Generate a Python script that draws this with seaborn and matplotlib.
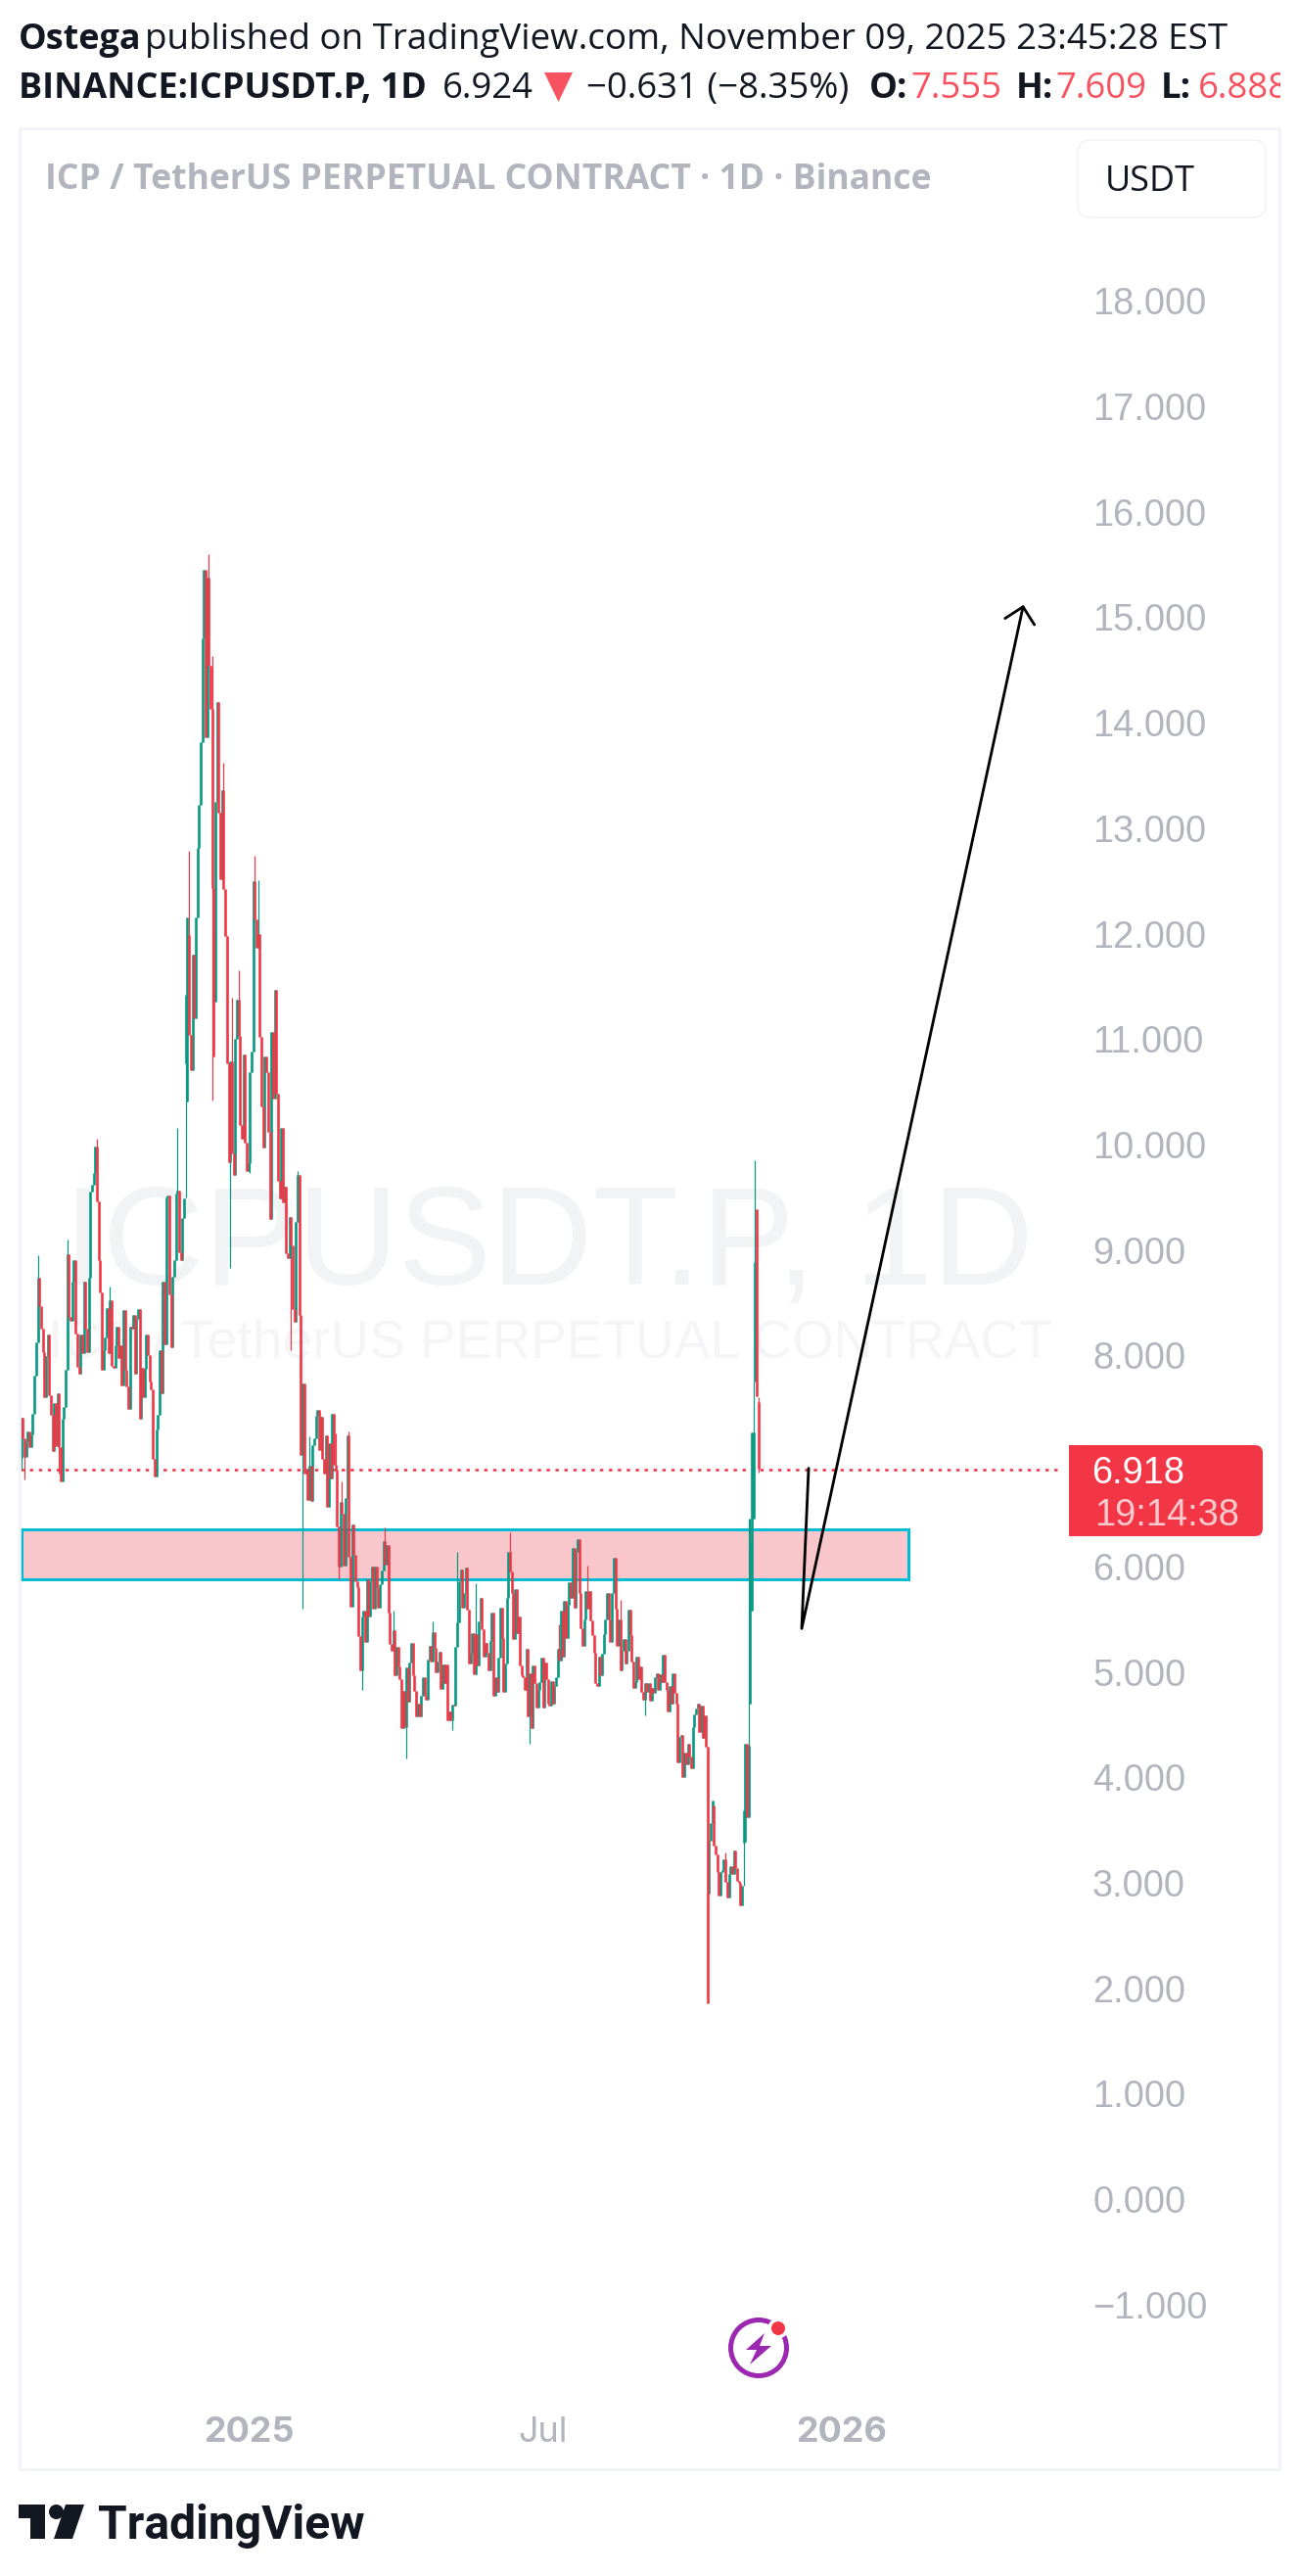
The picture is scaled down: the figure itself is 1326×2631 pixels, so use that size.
"""ICP perpetual daily chart, TradingView snapshot style."""
import matplotlib
matplotlib.use("Agg")
import matplotlib.pyplot as plt
import numpy as np
import pandas as pd
import seaborn as sns
from matplotlib.patches import Circle, FancyBboxPatch, Polygon, Rectangle
from matplotlib.transforms import IdentityTransform

W, H = 1326, 2631
GREEN, RED, SOFT_RED = "#089981", "#f23645", "#f7525f"
INK, GREY, BORDER = "#131722", "#b2b5be", "#f0f3fa"

# daily closes, ten per row
closes_2024 = [
    7.41, 7.21, 7.04, 7.19, 7.28, 7.13, 7.25, 7.45, 7.81, 8.12,
    8.74, 8.47, 8.25, 8.03, 7.60, 7.99, 8.20, 7.62, 7.44, 7.09,
    7.55, 7.14, 7.64, 7.13, 6.81, 7.40, 7.51, 7.86, 8.96, 8.37,
    8.33, 8.70, 8.90, 8.21, 7.89, 7.83, 8.20, 8.02, 8.70, 8.25,
    8.03, 8.74, 9.55, 9.62, 9.73, 9.98, 9.46, 8.90, 8.60, 7.86,
    8.05, 8.17, 8.45, 8.02, 8.52, 7.90, 7.88, 8.10, 8.27, 7.98,
    8.10, 7.72, 8.43, 7.86, 7.71, 7.49, 8.27, 8.25, 8.38, 7.83,
    8.35, 8.44, 7.40, 7.88, 7.60, 7.87, 8.20, 8.00, 7.75, 7.68,
    7.02, 6.85, 7.30, 7.44, 8.05, 7.64, 8.70, 8.11, 9.50, 9.52,
    8.58, 8.08, 8.75, 8.90, 9.54, 9.56, 8.98, 8.90, 9.30, 9.49,
    11.42, 12.15, 11.04, 10.71, 11.80, 11.20, 12.15, 12.81, 13.22, 13.82,
    14.80, 15.45, 13.86, 15.38, 14.54, 14.13, 12.43, 10.84, 13.25, 14.20,
    13.15, 12.52, 13.36, 12.42, 11.98, 10.77, 9.83, 10.79, 9.92, 9.71,
    11.00, 11.37, 11.03, 10.19, 10.06, 10.85, 10.02, 9.75, 9.82, 10.69,
]
closes_2025_h1 = [
    10.88, 12.50, 12.14, 11.87, 12.00, 11.02, 10.36, 9.97, 10.84, 10.69,
    10.12, 9.29, 11.07, 10.44, 11.47, 10.48, 9.66, 9.49, 10.16, 9.45,
    9.60, 8.97, 8.92, 9.31, 9.04, 8.44, 8.32, 9.27, 9.71, 8.38,
    7.06, 7.73, 6.88, 6.92, 6.63, 6.95, 6.62, 7.15, 7.21, 7.43,
    7.48, 7.10, 7.42, 7.02, 6.88, 7.24, 6.56, 7.17, 6.83, 7.45,
    6.96, 6.92, 6.38, 6.00, 6.61, 6.50, 6.01, 6.65, 7.24, 6.09,
    5.62, 6.40, 6.11, 5.86, 5.80, 5.34, 5.01, 5.52, 5.58, 5.28,
    5.88, 5.52, 5.86, 6.00, 5.60, 6.00, 5.79, 5.61, 5.83, 5.96,
    6.24, 6.02, 6.20, 5.56, 5.26, 5.20, 5.39, 4.97, 5.24, 5.05,
    4.93, 4.47, 4.82, 4.48, 5.04, 4.72, 5.09, 5.27, 4.97, 4.82,
    4.58, 4.70, 4.58, 4.77, 4.95, 4.77, 4.74, 5.12, 5.25, 5.10,
    5.38, 5.23, 5.00, 5.10, 5.19, 4.84, 5.07, 4.89, 5.07, 4.54,
    4.62, 4.54, 4.69, 4.68, 5.24, 5.47, 5.86, 5.97, 5.61, 5.75,
    5.99, 5.59, 5.08, 5.18, 5.37, 4.98, 5.36, 5.06, 5.48, 5.70,
    5.40, 5.14, 5.27, 5.18, 5.01, 5.29, 5.56, 4.77, 4.95, 4.81,
    5.13, 5.61, 5.32, 4.81, 5.08, 5.70, 6.14, 5.95, 5.75, 5.31,
]
closes_2025_h2 = [
    5.78, 5.37, 5.52, 5.06, 4.97, 4.95, 4.83, 5.22, 4.58, 4.99,
    4.47, 5.06, 4.89, 4.66, 4.83, 4.90, 5.13, 4.66, 5.09, 4.93,
    4.70, 4.68, 4.91, 4.70, 4.87, 4.95, 5.22, 5.11, 5.58, 5.14,
    5.67, 5.32, 5.64, 5.85, 5.70, 6.17, 5.61, 6.14, 6.26, 5.75,
    5.41, 5.25, 5.50, 5.77, 5.60, 5.77, 5.49, 5.35, 5.18, 4.89,
    4.87, 5.14, 4.97, 5.17, 5.36, 5.50, 5.75, 5.50, 5.28, 5.75,
    6.08, 5.60, 5.25, 5.50, 5.01, 5.20, 5.31, 5.08, 5.20, 5.59,
    5.35, 5.10, 4.85, 4.90, 5.14, 4.93, 5.05, 4.81, 4.74, 4.89,
    4.81, 4.89, 4.73, 4.85, 4.80, 4.95, 4.99, 4.83, 4.98, 4.90,
    5.16, 4.90, 4.83, 4.62, 4.87, 4.70, 4.99, 4.80, 4.70, 4.14,
    4.38, 4.40, 4.00, 4.23, 4.12, 4.32, 4.20, 4.09, 4.48, 4.60,
    4.65, 4.70, 4.43, 4.68, 4.37, 4.59, 4.29, 1.86, 3.40, 3.57,
    3.78, 3.35, 3.27, 3.10, 2.88, 3.10, 3.12, 3.22, 3.01, 2.86,
    3.08, 3.16, 3.08, 3.31, 3.14, 3.02, 3.00, 2.79, 2.97, 3.69,
    4.32, 3.62, 4.30, 6.22, 7.27, 7.27, 8.89, 7.61, 6.924,
]
# an open is the previous close except on these days
gap_days = [0, 100, 101, 102, 118, 418, 421, 439, 440, 443, 444, 445, 446, 447, 448]
gap_opens = [7.03, 10.77, 10.41, 11.99, 11.36, 2.90, 3.73, 3.38, 3.39, 4.70, 5.58, 6.45, 7.75, 9.39, 7.555]
# wicks that stick out of the bodies
high_days = [10, 28, 46, 54, 95, 102, 114, 116, 120, 123, 128, 132, 142, 144, 168, 175, 191, 195,
             199, 221, 226, 250, 265, 276, 297, 327, 344, 364, 396, 428, 442, 443, 445, 446, 448]
high_vals = [8.95, 9.10, 10.06, 8.65, 10.16, 12.79, 15.60, 14.63, 13.94, 13.62, 11.39, 11.65, 12.74,
             12.51, 9.75, 7.23, 7.26, 6.81, 7.28, 6.37, 5.58, 5.48, 6.14, 5.84, 6.32, 5.45, 6.01,
             5.68, 4.99, 3.29, 6.45, 6.45, 7.75, 9.85, 7.609]
low_days = [0, 2, 23, 100, 116, 127, 139, 164, 171, 193, 207, 234, 262, 309, 379, 439, 442, 448]
low_vals = [6.92, 6.82, 6.88, 9.50, 10.42, 8.83, 9.73, 8.05, 5.60, 5.88, 4.83, 4.18, 4.45, 4.32,
            4.59, 2.97, 3.93, 6.888]

price_ticks = [-1, 0, 1, 2, 3, 4, 5, 6, 8, 9, 10, 11, 12, 13, 14, 15, 16, 17, 18]
date_ticks = [138.5, 316.7, 498.7]
date_labels = ["2025", "Jul", "2026"]
last_price = 6.918
zone_low, zone_high = 5.882, 6.35
zone_end_day = 539
path_days = [478.5, 474.3, 608.8]
path_prices = [6.93, 5.41, 15.10]
head_days = [597.9, 608.8, 615.7]
head_prices = [14.99, 15.10, 14.93]


def pt(px):
    return px * 0.72


def put(x, y, s, size, family="Open Sans", color=INK, weight="normal", **kw):
    return fig.text(x / W, 1 - y / H, s, fontsize=pt(size), family=family, color=color,
                    weight=weight, va="baseline", zorder=4, **kw)


def shape(patch):
    patch.set_transform(IdentityTransform())
    fig.add_artist(patch)
    return patch


sns.set_theme(style="white")
plt.rcParams["font.family"] = ["Inter", "DejaVu Sans"]

closes = np.array(closes_2024 + closes_2025_h1 + closes_2025_h2)
days = np.arange(len(closes))
opens = np.r_[closes[0], closes[:-1]]
opens[gap_days] = gap_opens
highs = np.maximum(opens, closes)
lows = np.minimum(opens, closes)
highs[high_days] = np.maximum(highs[high_days], high_vals)
lows[low_days] = np.minimum(lows[low_days], low_vals)
side = np.where(closes >= opens, "up", "down")

wicks = pd.DataFrame({"day": np.r_[days, days], "price": np.r_[lows, highs], "side": np.r_[side, side]})
bodies = pd.DataFrame({"day": np.r_[days, days], "price": np.r_[opens, closes], "side": np.r_[side, side]})

fig = plt.figure(figsize=(W / 100, H / 100), dpi=100, facecolor="white")

# pane runs from x=21 to x=1085 and y=133 to y=2445 in image pixels
left, right, top, bottom = 21, 1085, 133, 2445
ax = fig.add_axes([left / W, 1 - bottom / H, (right - left) / W, (bottom - top) / H])
ax.patch.set_alpha(0)
ax.set_xlim((left - 21.7) / 1.681, (right - 21.7) / 1.681)
ax.set_ylim(10 - (bottom - 1169) / 107.7, 10 - (top - 1169) / 107.7)

# watermark
ax.text(560, H - 1311, "ICPUSDT.P, 1D", transform=IdentityTransform(), family="Liberation Sans",
        fontsize=pt(143), color="#f2f3f5", ha="center", va="baseline", zorder=0)
ax.text(562, H - 1387, "ICP / TetherUS PERPETUAL CONTRACT", transform=IdentityTransform(),
        family="Liberation Sans", fontsize=pt(55), color="#f5f5f7", ha="center", va="baseline", zorder=0)

ax.add_patch(Rectangle((0, zone_low), zone_end_day, zone_high - zone_low, fc="#f9c6cb", ec="#00bcd4",
                       lw=pt(3), zorder=1))
ax.axhline(last_price, color=RED, lw=pt(2.6), ls=(0, (1.3, 2.2)), zorder=2)

palette = {"up": GREEN, "down": RED}
sns.lineplot(data=wicks, x="day", y="price", hue="side", units="day", estimator=None, palette=palette,
             hue_order=["up", "down"], lw=pt(1.2), legend=False, ax=ax, solid_capstyle="butt", zorder=3)
sns.lineplot(data=bodies, x="day", y="price", hue="side", units="day", estimator=None, palette=palette,
             hue_order=["up", "down"], lw=pt(2.6), legend=False, ax=ax, solid_capstyle="butt", zorder=3)

ax.plot(path_days, path_prices, color="black", lw=pt(2.8), solid_capstyle="round", zorder=4, clip_on=False)
ax.plot(head_days, head_prices, color="black", lw=pt(2.8), solid_capstyle="round", zorder=4, clip_on=False)

ax.set_xlabel("")
ax.set_ylabel("")
ax.yaxis.tick_right()
ax.set_yticks(price_ticks)
ax.set_yticklabels([f"{v:.3f}".replace("-", "\u2212") for v in price_ticks])
ax.set_xticks(date_ticks)
ax.set_xticklabels(date_labels)
ax.tick_params(axis="y", length=0, pad=pt(31), labelsize=pt(38), labelcolor=GREY)
ax.tick_params(axis="x", length=0, pad=pt(23), labelsize=pt(36), labelcolor=GREY)
for lab in ax.get_yticklabels():
    lab.set_fontfamily("Liberation Sans")
for lab, name in zip(ax.get_xticklabels(), date_labels):
    lab.set_fontweight("normal" if name == "Jul" else "bold")
sns.despine(ax=ax, left=True, bottom=True, right=True, top=True)

# frame around the chart
shape(Rectangle((19.5, H - 2521.5), 1287, 2391, fc="none", ec=BORDER, lw=pt(2.7), zorder=1))

# header
put(18.6, 50, "Ostega", 36, weight="bold")
put(148, 50, "published on TradingView.com, November 09, 2025 23:45:28 EST", 36.7)
put(18.6, 100, "BINANCE:ICPUSDT.P, 1D", 36, weight="bold")
put(452, 100, "6.924", 36.5)
shape(Polygon([(556, H - 74), (585, H - 74), (570.5, H - 104)], fc=SOFT_RED, ec="none", zorder=4))
put(599, 100, "\u22120.631 (\u22128.35%)", 36.5)
for x, s, weight, color in [(888, "O:", "bold", INK), (930, "7.555", "normal", SOFT_RED),
                            (1038, "H:", "bold", INK), (1078, "7.609", "normal", SOFT_RED),
                            (1186, "L:", "bold", INK), (1224, "6.888", "normal", SOFT_RED)]:
    put(x, 100, s, 36.5, weight=weight, color=color)
shape(Rectangle((1308, H - 120), 18, 70, fc="white", ec="none", zorder=5))

# chart title and currency button
put(46.5, 193, "ICP / TetherUS PERPETUAL CONTRACT \u00b7 1D \u00b7 Binance", 35.5, weight="bold", color=GREY)
shape(FancyBboxPatch((1101, H - 222), 192, 79, boxstyle="round,pad=0,rounding_size=13", fc="white",
                     ec="#f0f3f5", lw=pt(1.5), zorder=2))
put(1129, 195, "USDT", 36)

# last price tag
shape(FancyBboxPatch((1092, H - 1569), 198, 93, boxstyle="round,pad=0,rounding_size=8", fc=RED, ec="none", zorder=3))
shape(Rectangle((1092, H - 1569), 20, 93, fc=RED, ec="none", zorder=3))
put(1115, 1515, "6.918", 38, family="Liberation Sans", color="white")
put(1118, 1558, "19:14:38", 38, family="Liberation Sans", color="#fcc9ce")

# lightning badge
shape(Circle((775, H - 2398), 28.5, fc="none", ec="#9c27b0", lw=pt(5), zorder=2))
shape(Polygon([(781, H - 2383), (762, H - 2400), (773, H - 2400), (766, H - 2415), (788, H - 2396),
               (776, H - 2396)], fc="#9c27b0", ec="none", zorder=3))
shape(Circle((795, H - 2378), 10.5, fc="white", ec="none", zorder=3))
shape(Circle((795, H - 2378), 7, fc=RED, ec="none", zorder=4))

# TradingView logo
shape(Polygon([(19, H - 2558), (46, H - 2558), (46, H - 2593), (31, H - 2593), (31, H - 2572), (19, H - 2572)],
              fc=INK, ec="none", zorder=3))
shape(Circle((57.5, H - 2565.5), 7.5, fc=INK, ec="none", zorder=3))
shape(Polygon([(67, H - 2558), (86, H - 2558), (74, H - 2593), (55, H - 2593)], fc=INK, ec="none", zorder=3))
put(100, 2593, "TradingView", 48, family="Roboto", weight="bold")

fig.savefig("out.png", dpi=100)
